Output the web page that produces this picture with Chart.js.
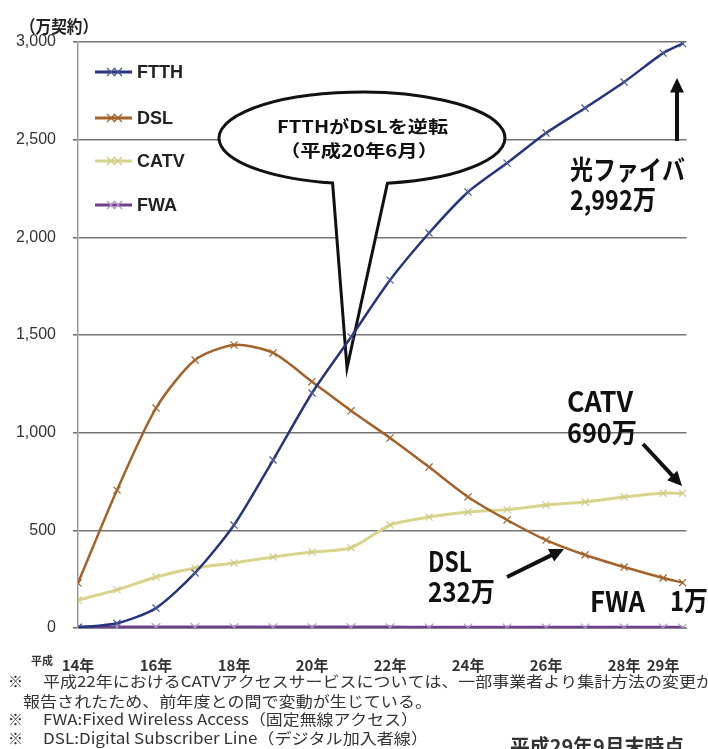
<!DOCTYPE html>
<html>
<head>
<meta charset="utf-8">
<script src="https://cdn.jsdelivr.net/npm/chart.js@4.4.1/dist/chart.umd.min.js"></script>
<style>
    html, body { margin: 0; padding: 0; background: #fff; }
</style>
</head>
<body>
<canvas id="broadbandChart" width="708" height="749"></canvas>
<script>
// 平成14年3月末 ... 平成29年3月末, 29年9月末
var years = [14, 15, 16, 17, 18, 19, 20, 21, 22, 23, 24, 25, 26, 27, 28, 29, 29.5];
var tickYears = [14, 16, 18, 20, 22, 24, 26, 28, 29];
var yTicks = [0, 500, 1000, 1500, 2000, 2500, 3000];

var seriesNames = ['FTTH', 'DSL', 'CATV', 'FWA'];
var ftth = [3, 24, 102, 282, 527, 860, 1203, 1490, 1781, 2022, 2232, 2380, 2534, 2662, 2795, 2943, 2992];
var dsl = [230, 706, 1126, 1372, 1449, 1408, 1261, 1112, 973, 824, 671, 553, 450, 374, 312, 256, 232];
var catv = [143, 195, 261, 307, 333, 364, 389, 411, 527, 568, 594, 606, 630, 645, 671, 690, 690];
var fwa = [2, 3, 3, 3, 2, 2, 2, 2, 2, 1, 1, 1, 1, 1, 1, 1, 1];

var colors = ['#26347f', '#a4622b', '#d8d48c', '#6f3f8f'];
var markerColors = ['#4a5590', '#a4622b', '#cfcb86', '#b592c4'];

function toPoints(vals) {
    return vals.map(function (v, i) { return {x: years[i], y: v}; });
}

function fitText(ctx, txt, x, y, w, font) {
    ctx.save();
    ctx.font = font;
    var m = ctx.measureText(txt).width;
    ctx.translate(x, y);
    ctx.scale(w / m, 1);
    ctx.fillText(txt, 0, 0);
    ctx.restore();
}

function arrow(ctx, x1, y1, x2, y2, head) {
    var a = Math.atan2(y2 - y1, x2 - x1);
    ctx.save();
    ctx.strokeStyle = '#111';
    ctx.fillStyle = '#111';
    ctx.lineWidth = 4;
    ctx.beginPath();
    ctx.moveTo(x1, y1);
    ctx.lineTo(x2 - Math.cos(a) * head * 0.8, y2 - Math.sin(a) * head * 0.8);
    ctx.stroke();
    ctx.beginPath();
    ctx.moveTo(x2, y2);
    ctx.lineTo(x2 - head * Math.cos(a - 0.45), y2 - head * Math.sin(a - 0.45));
    ctx.lineTo(x2 - head * Math.cos(a + 0.45), y2 - head * Math.sin(a + 0.45));
    ctx.closePath();
    ctx.fill();
    ctx.restore();
}

var jpFont = '"Noto Sans CJK JP", "Noto Sans", sans-serif';

// speech bubble, drawn under the lines
var bubblePlugin = {
    id: 'bubble',
    beforeDatasetsDraw: function (chart) {
        var ctx = chart.ctx;
        var cx = 362, cy = 138, rx = 143, ry = 46;
        ctx.save();
        ctx.beginPath();
        ctx.ellipse(cx, cy, rx, ry, 0, 1.392, 1.778 - 2 * Math.PI, true);
        ctx.lineTo(347, 368);
        ctx.closePath();
        ctx.fillStyle = '#fff';
        ctx.fill();
        ctx.lineWidth = 3;
        ctx.strokeStyle = '#111';
        ctx.stroke();

        ctx.fillStyle = '#111';
        ctx.textBaseline = 'middle';
        fitText(ctx, 'FTTHがDSLを逆転', 277, 127, 171, 'bold 17px ' + jpFont);
        fitText(ctx, '（平成20年6月）', 280, 151, 158, 'bold 17px ' + jpFont);
        ctx.restore();
    }
};

var notesPlugin = {
    id: 'notes',
    afterDraw: function (chart) {
        var ctx = chart.ctx;
        ctx.save();
        ctx.textBaseline = 'middle';
        ctx.fillStyle = '#222';

        // unit
        fitText(ctx, '（万契約）', 20, 27, 78, 'bold 17px ' + jpFont);

        // legend
        var legY = [72, 118, 161, 205];
        chart.data.datasets.forEach(function (ds, i) {
            var y = legY[i];
            ctx.strokeStyle = ds.borderColor;
            ctx.lineWidth = 3;
            ctx.beginPath();
            ctx.moveTo(95, y);
            ctx.lineTo(132, y);
            ctx.stroke();
            ctx.lineWidth = 1.2;
            ctx.strokeStyle = markerColors[i];
            [111, 118].forEach(function (mx) {
                ctx.beginPath();
                ctx.moveTo(mx - 4, y - 4); ctx.lineTo(mx + 4, y + 4);
                ctx.moveTo(mx - 4, y + 4); ctx.lineTo(mx + 4, y - 4);
                ctx.stroke();
            });
            ctx.fillStyle = '#222';
            ctx.font = 'bold 18px "Liberation Sans", Arial, sans-serif';
            ctx.fillText(ds.label, 137, y + 1);
        });

        // 平成 prefix for the year axis
        ctx.font = 'bold 11px ' + jpFont;
        ctx.fillStyle = '#333';
        ctx.fillText('平成', 31, 661);

        // labels on the right
        ctx.fillStyle = '#111';
        fitText(ctx, '光ファイバ', 570, 170, 115, 'bold 27px ' + jpFont);
        fitText(ctx, '2,992万', 570, 200, 86, 'bold 27px ' + jpFont);
        fitText(ctx, 'CATV', 567, 401, 66, 'bold 28px ' + jpFont);
        fitText(ctx, '690万', 567, 433, 70, 'bold 27px ' + jpFont);
        fitText(ctx, 'DSL', 428, 561, 44, 'bold 28px ' + jpFont);
        fitText(ctx, '232万', 428, 592, 67, 'bold 27px ' + jpFont);
        fitText(ctx, 'FWA', 590, 601, 55, 'bold 28px ' + jpFont);
        fitText(ctx, '1万', 670, 601, 38, 'bold 27px ' + jpFont);

        arrow(ctx, 677, 141, 677, 78, 16);
        arrow(ctx, 643, 444, 682, 486, 16);
        arrow(ctx, 507, 577, 564, 549, 16);

        // footnotes
        ctx.fillStyle = '#333';
        var nf = '15px ' + jpFont;
        ctx.font = nf;
        ctx.fillText('※', 8, 681);
        ctx.fillText('※', 8, 719);
        ctx.fillText('※', 8, 738);
        fitText(ctx, '平成22年におけるCATVアクセスサービスについては、一部事業者より集計方法の変更が', 43, 681, 670, nf);
        fitText(ctx, '報告されたため、前年度との間で変動が生じている。', 23, 701, 409, nf);
        fitText(ctx, 'FWA:Fixed Wireless Access（固定無線アクセス）', 43, 719, 375, nf);
        fitText(ctx, 'DSL:Digital Subscriber Line（デジタル加入者線）', 43, 738, 385, nf);

        ctx.textBaseline = 'top';
        fitText(ctx, '平成29年9月末時点', 510, 736, 174, 'bold 20px ' + jpFont);
        ctx.restore();
    }
};

var datasets = [ftth, dsl, catv, fwa].map(function (vals, i) {
    return {
        label: seriesNames[i],
        data: toPoints(vals),
        borderColor: colors[i],
        backgroundColor: colors[i],
        borderWidth: i === 3 ? 4 : (i === 2 ? 3 : 2.5),
        pointStyle: 'crossRot',
        pointRadius: i === 3 ? 6 : 5,
        pointBorderWidth: 1.2,
        pointBorderColor: markerColors[i],
        tension: 0.25,
        fill: false
    };
});

var ctx = document.getElementById('broadbandChart');
var myChart = new Chart(ctx, {
    type: 'line',
    data: {datasets: datasets},
    options: {
        responsive: false,
        animation: false,
        devicePixelRatio: 1,
        layout: {padding: {top: 42, right: 14, bottom: 66, left: 0}},
        plugins: {legend: {display: false}, tooltip: {enabled: false}},
        scales: {
            x: {
                type: 'linear',
                min: 14,
                max: 29.6,
                afterBuildTicks: function (axis) {
                    axis.ticks = tickYears.map(function (v) { return {value: v}; });
                },
                afterFit: function (s) { s.height = 55; },
                grid: {display: false, drawTicks: false},
                border: {display: true, color: '#888'},
                ticks: {
                    autoSkip: false,
                    maxRotation: 0,
                    padding: 28,
                    color: '#333',
                    font: {family: jpFont, size: 15, weight: 'bold'},
                    callback: function (v) { return v + '年'; }
                }
            },
            y: {
                min: 0,
                max: 3000,
                afterBuildTicks: function (axis) {
                    axis.ticks = yTicks.map(function (v) { return {value: v}; });
                },
                afterFit: function (s) { s.width = 78; },
                grid: {color: '#757575', lineWidth: 1.6, tickLength: 5},
                border: {display: true, color: '#999', width: 1.5},
                ticks: {
                    padding: 17,
                    color: '#333',
                    font: {family: '"Liberation Sans", Arial, sans-serif', size: 16},
                    callback: function (v) { return v.toLocaleString('en-US'); }
                }
            }
        }
    },
    plugins: [bubblePlugin, notesPlugin]
});
</script>
</body>
</html>
